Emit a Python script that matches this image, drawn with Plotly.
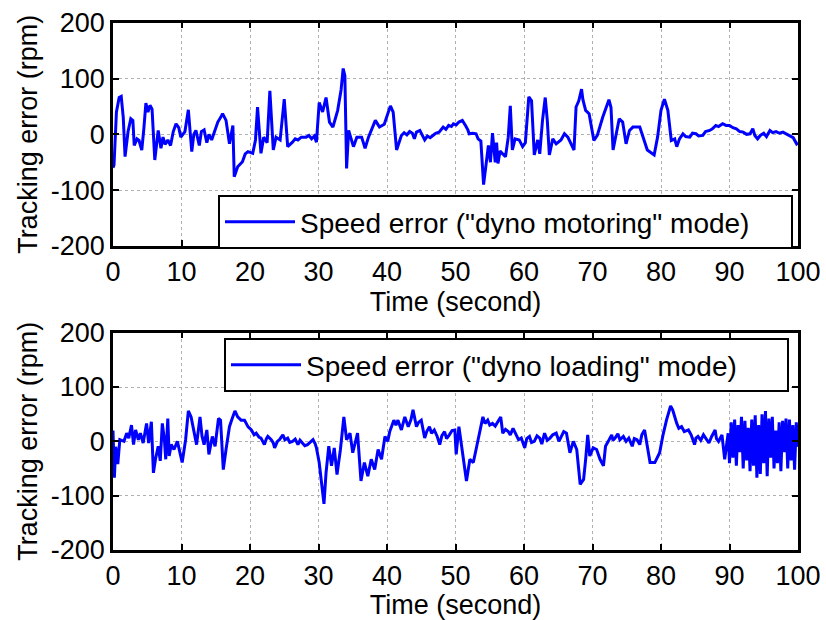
import plotly.graph_objects as go

# ---- data ----
t_motoring = [0, 0.15, 0.5, 0.9, 1.2, 1.5, 1.76, 2.2, 2.6, 2.9,
              3.1, 3.5, 3.8, 4.2, 4.5, 4.8, 5.1, 5.4, 5.7, 6.1,
              6.6, 7.0, 7.3, 7.6, 8.0, 8.4, 8.8, 9.2, 9.6, 9.9,
              10.5, 11.0, 11.5, 11.8, 12.1, 12.6, 12.9, 13.3, 13.7, 14.0,
              14.4, 14.8, 15.3, 15.7, 16.0, 16.5, 17.0, 17.5, 17.7, 18.2,
              18.9, 19.3, 19.7, 20.4, 20.8, 21.1, 21.6, 22.0, 22.5, 22.9,
              23.4, 23.8, 24.4, 25.0, 25.5, 26.2, 26.6, 27.0, 27.5, 28.2,
              28.6, 29.0, 29.4, 29.7, 30.1, 30.6, 31.1, 31.6, 32.1, 32.8,
              33.3, 33.6, 33.85, 34.1, 34.4, 35.1, 35.6, 36.3, 36.8, 37.3,
              38.3, 38.9, 39.6, 40.5, 40.9, 41.4, 42.1, 42.5, 42.9, 43.3,
              43.7, 44.0, 44.3, 44.8, 45.2, 45.5, 45.9, 46.3, 46.7, 47.1,
              47.6, 48.0, 48.2, 48.6, 49.0, 49.4, 49.7, 50.1, 50.5, 51.0,
              51.3, 51.5, 51.8, 52.0, 52.5, 53.0, 53.3, 53.7, 54.1, 54.5,
              54.8, 55.1, 55.4, 55.8, 56.0, 56.2, 56.5, 57.3, 57.7, 58.0,
              58.3, 58.7, 59.3, 59.8, 60.2, 60.7, 61.1, 61.5, 62.0, 62.3,
              62.7, 63.1, 63.4, 63.7, 64.2, 64.7, 65.4, 65.9, 66.4, 67.3,
              67.6, 68.0, 68.4, 68.6, 69.0, 69.5, 70.2, 70.7, 71.5, 72.4,
              72.7, 73.0, 73.4, 73.9, 74.4, 74.9, 75.4, 75.9, 76.9, 77.4,
              78.0, 79.0, 79.5, 80.0, 80.5, 81.0, 81.5, 82.0, 82.3, 82.7,
              83.2, 83.6, 84.2, 84.6, 85.1, 85.5, 86.1, 86.5, 87.1, 87.5,
              88.0, 88.4, 89.0, 89.5, 90.0, 90.5, 91.0, 91.5, 92.0, 92.5,
              93.0, 93.4, 93.7, 94.1, 94.5, 95.0, 95.4, 95.9, 96.3, 96.8,
              97.3, 97.8, 98.3, 98.8, 99.3, 99.8, 100]
err_motoring = [-60, -55, 40, 66, 68, 30, -40, 5, 28, 25,
                -20, -8, -11, -28, 10, 56, 40, 52, 45, -46,
                7, -25, -5, -18, -10, -20, 5, 19, 12, -5,
                5, 44, -31, 0, 7, -20, 5, 8, -15, 0,
                -10, 5, 22, 30, 37, 25, -17, 16, -76, -58,
                -49, -35, -31, -34, -10, 49, -34, -5, -15, 78,
                -28, -5, -10, 63, -22, -14, -8, -10, -5, -5,
                -2, -8, -3, -14, 57, 40, 66, 22, 13, 43,
                80, 118, 105, -61, 7, -22, -5, -5, -25, -5,
                25, 13, 18, 51, 40, -28, -2, 3, -1, 5,
                2, -8, 4, 7, -2, -10, -3, -6, -2, 2,
                4, 10, 13, 9, 16, 14, 19, 17, 22, 25,
                20, 15, 8, 1, 2, 1, -8, -12, -90, -46,
                -20, -50, 2, -50, -15, -52, -30, -40, -5, 51,
                -28, -8, -10, -22, -15, 67, 60, -37, -10, -35,
                25, 66, 25, -37, -8, -17, -10, 1, -5, -28,
                49, 60, 81, 62, 43, 37, -11, -2, 31, 62,
                48, -28, -5, 28, 22, -17, 7, 13, 13, -5,
                -28, -37, -5, 43, 63, 43, -11, -8, -22, -8,
                1, -4, -5, 2, 1, -3, -2, 5, 7, 10,
                16, 14, 19, 16, 16, 12, 10, 5, 4, 0,
                1, 10, -2, -8, -2, 2, -4, 7, 3, 5,
                2, 4, 1, -2, -6, -17, -15]

t_loading = [0, 0.2, 0.4, 0.7, 1.0, 1.6, 2.0, 2.3, 2.7, 3.0,
             3.3, 3.7, 4.0, 4.4, 4.9, 5.2, 5.6, 5.9, 6.2, 6.6,
             6.9, 7.2, 7.5, 7.7, 8.0, 8.2, 8.5, 8.9, 9.4, 10.1,
             10.6, 11.0, 11.4, 11.9, 12.2, 12.7, 13.0, 13.3, 13.7, 14.0,
             14.5, 14.9, 15.4, 15.7, 16.1, 16.5, 17.0, 17.4, 17.8, 18.2,
             18.7, 19.2, 19.7, 20.2, 20.6, 20.9, 21.3, 21.6, 22.1, 22.4,
             22.6, 23.1, 23.4, 23.6, 24.0, 24.3, 24.8, 25.1, 25.5, 25.8,
             26.2, 26.6, 27.0, 27.3, 27.7, 28.0, 28.4, 28.8, 29.2, 29.5,
             29.7, 30.1, 30.8, 31.1, 31.5, 31.9, 32.3, 32.7, 33.2, 33.7,
             34.1, 34.6, 35.0, 35.7, 36.2, 36.7, 37.2, 37.7, 38.2, 38.7,
             39.2, 39.7, 40.1, 40.4, 41.0, 41.3, 41.6, 42.1, 42.6, 43.1,
             43.5, 43.8, 44.3, 44.6, 45.0, 45.5, 45.8, 46.2, 46.5, 46.9,
             47.3, 47.7, 48.0, 48.4, 48.7, 49.1, 49.5, 49.9, 50.1, 50.5,
             51.0, 51.6, 52.1, 52.6, 53.1, 53.6, 54.0, 54.3, 54.7, 55.0,
             55.4, 55.8, 56.2, 56.6, 56.9, 57.3, 57.7, 58.0, 58.4, 58.9,
             59.2, 59.6, 60.1, 60.4, 60.8, 61.1, 61.5, 61.9, 62.3, 62.6,
             63.0, 63.4, 63.8, 64.2, 64.7, 65.1, 65.5, 65.8, 66.2, 66.7,
             67.2, 67.7, 68.2, 68.7, 69.0, 69.3, 69.6, 70.1, 70.6, 71.1,
             71.6, 71.9, 72.3, 72.8, 73.0, 73.3, 73.7, 74.0, 74.5, 74.9,
             75.3, 75.8, 76.1, 76.5, 76.9, 77.2, 77.6, 78.0, 78.4, 79.1,
             79.8, 80.3, 80.8, 81.4, 81.7, 82.3, 82.6, 83.0, 83.4, 84.0,
             84.4, 84.9, 85.1, 85.4, 85.8, 86.2, 86.7, 87.0, 87.4, 87.9,
             88.1, 88.4, 88.9, 89.3, 89.8,
             90.0, 90.25, 90.5, 90.75, 91.0, 91.25, 91.5, 91.75, 92.0, 92.25,
             92.5, 92.75, 93.0, 93.25, 93.5, 93.75, 94.0, 94.25, 94.5, 94.75,
             95.0, 95.25, 95.5, 95.75, 96.0, 96.25, 96.5, 96.75, 97.0, 97.25,
             97.5, 97.75, 98.0, 98.25, 98.5, 98.75, 99.0, 99.25, 99.5, 99.75,
             100.0]
err_loading = [20, -67, -10, -42, 3, 0, 15, 6, 30, -6,
               21, 3, 15, -3, 33, -3, 36, -58, -33, -9,
               -36, 33, 3, -33, 42, -27, -6, -15, 0, -39,
               3, 56, 45, 9, -6, 45, 9, -6, 21, -24,
               9, -9, 42, 39, -52, -15, 27, 42, 56, 45,
               39, 39, 27, 21, 12, 15, 8, 6, -6, 5,
               9, 3, -3, -12, 0, 3, 12, 3, 6, -2,
               0, 4, -6, 2, -3, -8, -6, -2, 3, -4,
               -12, -39, -115, -58, -9, -45, -12, -61, -15, 45,
               3, 15, -21, 15, -73, -39, -64, -33, -52, -15,
               -33, 9, 0, 18, 39, 30, 39, 21, 45, 27,
               40, 58, 27, 35, 39, 6, 18, 27, 15, 21,
               10, -6, 10, 18, 5, 12, 20, 21, -24, 27,
               -21, -73, -33, -39, -9, 21, 45, 33, 39, 30,
               33, 28, 36, 45, 15, 22, 18, 12, 24, 12,
               3, 6, -12, 5, 9, -2, 0, 10, 6, -5,
               15, 2, 6, 12, 15, 0, 9, 18, 15, -21,
               0, -15, -79, -70, -33, 12, -27, -12, -15, -33,
               -45, -9, 0, 12, 2, 6, 14, 3, 9, 0,
               6, -9, 5, 3, -6, 12, 21, -9, -39, -39,
               -21, 12, 39, 65, 58, 33, 24, 27, 18, 21,
               12, -6, 6, 9, 2, 12, 3, -3, 9, 21,
               5, 0, 12, -33, 15,
               -40, 35, -30, 40, -45, 30, -20, 45, -50, 38,
               -35, 25, -55, 40, -45, 48, -67, 30, -60, 50,
               -40, 56, -64, 42, -30, 45, -50, 20, -40, 35,
               -55, 38, -20, 42, -50, 40, -35, 30, -52, 35,
               -10]

x_ticks = [0, 10, 20, 30, 40, 50, 60, 70, 80, 90, 100]
y_ticks = [-200, -100, 0, 100, 200]
y_tick_labels = ["-200", "-100", "0", "100", "200"]
name_motoring = 'Speed error ("dyno motoring" mode)'
name_loading = 'Speed error ("dyno loading" mode)'

FONT = "Liberation Sans, Arial, sans-serif"

fig = go.Figure()
fig.add_trace(go.Scatter(x=t_motoring, y=err_motoring, mode="lines", name=name_motoring,
                         line=dict(color="#0000FF", width=3), xaxis="x", yaxis="y", legend="legend"))
fig.add_trace(go.Scatter(x=t_loading, y=err_loading, mode="lines", name=name_loading,
                         line=dict(color="#0000FF", width=3), xaxis="x2", yaxis="y2", legend="legend2"))

axis_common = dict(showline=True, linecolor="black", linewidth=2.5, mirror="ticks",
                   ticks="inside", ticklen=6, tickwidth=2, tickcolor="black",
                   showgrid=True, gridcolor="#b0b0b0", griddash="dot", gridwidth=1,
                   zeroline=False, automargin=False,
                   tickfont=dict(family=FONT, size=27, color="black"))

xd = [113 / 826, 798 / 826]
legend_common = dict(xanchor="left", yanchor="top", orientation="h",
                     bgcolor="white", bordercolor="black", borderwidth=2,
                     font=dict(family=FONT, size=28, color="black"), itemwidth=70,
                     entrywidthmode="pixels")
fig.update_layout(
    width=826, height=620, margin=dict(l=0, r=0, t=0, b=0, autoexpand=False),
    paper_bgcolor="white", plot_bgcolor="white",
    font=dict(family=FONT, color="black"),
    xaxis=dict(domain=xd, anchor="y", range=[0, 100], tickvals=x_ticks,
               title=dict(text="Time (second)", font=dict(size=27), standoff=3), **axis_common),
    yaxis=dict(domain=[1 - 246 / 620, 1 - 22.7 / 620], anchor="x", range=[-200, 200],
               tickvals=y_ticks, ticktext=y_tick_labels,
               title=dict(text="Tracking error (rpm)", font=dict(size=27), standoff=6), **axis_common),
    xaxis2=dict(domain=xd, anchor="y2", range=[0, 100], tickvals=x_ticks,
                title=dict(text="Time (second)", font=dict(size=27), standoff=3), **axis_common),
    yaxis2=dict(domain=[1 - 550 / 620, 1 - 332.7 / 620], anchor="x2", range=[-200, 200],
                tickvals=y_ticks, ticktext=y_tick_labels,
                title=dict(text="Tracking error (rpm)", font=dict(size=27), standoff=6), **axis_common),
    legend=dict(x=218 / 826, y=1 - 195 / 620, entrywidth=486, **legend_common),
    legend2=dict(x=224 / 826, y=1 - 338 / 620, entrywidth=476, **legend_common),
    showlegend=True,
)

fig.write_html("out.html")
